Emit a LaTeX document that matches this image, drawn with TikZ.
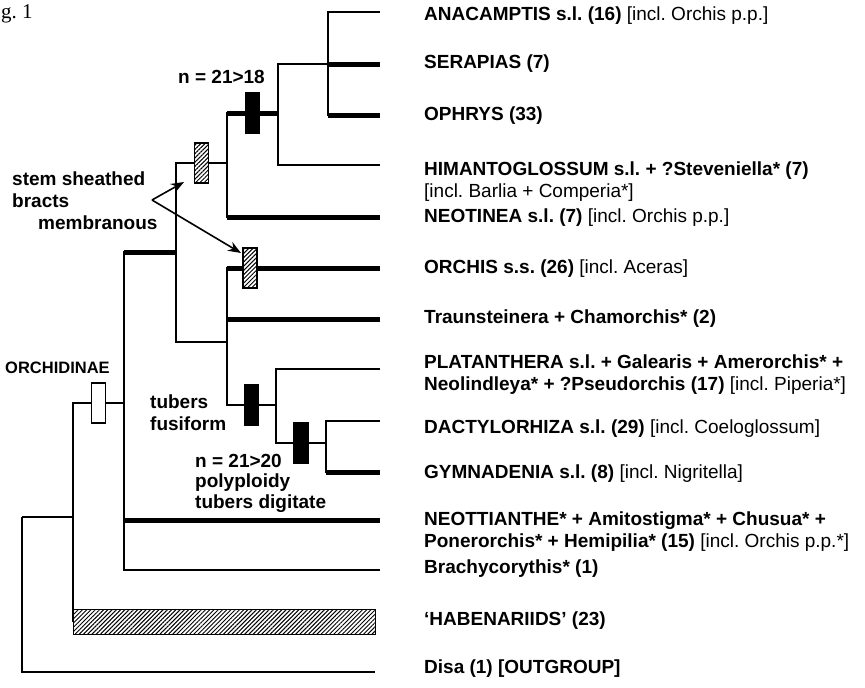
\documentclass[tikz,border=0pt]{standalone}
\usepackage{fontspec}
\setmainfont{Liberation Sans}
\newfontfamily\figfont{Liberation Serif}
\usetikzlibrary{arrows.meta,patterns.meta}
\frenchspacing
\newcommand{\twolines}[2]{\vtop{\hbox{#1}\hbox{#2}}}
\newcommand{\incl}[1]{\textmd{[incl. #1]}}

\begin{document}
\begin{tikzpicture}[x=1pt, y=-1pt,
  every node/.style={inner sep=0pt, anchor=base west, font=\bfseries\fontsize{19}{22}\selectfont},
  br/.style={line width=2.6pt},
  thickbr/.style={line width=5pt},
  bar/.style={draw, line width=1.6pt, minimum width=14pt, minimum height=40pt, anchor=center},
  solidbar/.style={bar, fill=black},
  hatchbar/.style={bar, preaction={fill=white}, pattern={Lines[angle=45,distance=3pt,line width=1pt]}},
  openbar/.style={bar, fill=white},
  pointer/.style={-{Stealth[length=13pt,width=10pt]}, line width=1.6pt}]
\useasboundingbox (0,0) rectangle (865,688);
\node[font=\figfont\fontsize{21}{24}\selectfont] (fig) at (1,19) {g. 1};

\coordinate (R) at (22,517);
\coordinate (n1) at (73,517);
\coordinate (n2) at (124,403);
\coordinate (n3) at (176,252);
\coordinate (n4) at (227,163);
\coordinate (n5) at (278,113);
\coordinate (n6) at (328,64);
\coordinate (n7) at (227,342);
\coordinate (n8) at (276,405);
\coordinate (n9) at (326,443);

\coordinate (anac) at (380,12);
\coordinate (sera) at (380,64);
\coordinate (ophr) at (380,115);
\coordinate (hima) at (380,165);
\coordinate (neot) at (380,217);
\coordinate (orch) at (380,268);
\coordinate (trau) at (380,319);
\coordinate (plat) at (380,369);
\coordinate (dact) at (380,421);
\coordinate (gymn) at (380,472);
\coordinate (neoa) at (380,520);
\coordinate (brac) at (380,570);
\coordinate (disa) at (375,672);
\node[draw, line width=1.6pt, anchor=west, minimum width=302pt, minimum height=25pt,
  preaction={fill=white}, pattern={Lines[angle=45,distance=3pt,line width=1pt]}] (hab) at (73,622) {};

\draw[br] (R) |- (n1);
\draw[br] (R) |- (disa);
\draw[br] (n1) |- (hab.west);
\draw[br] (n1) |- node[openbar, pos=0.75] (k0) {} (n2);
\draw[br] (n2) |- (n3);
\draw[thickbr] (n2 |- n3) -- (n3);
\draw[br] (n2) |- (neoa);
\draw[thickbr] (n2 |- neoa) -- (neoa);
\draw[br] (n2) |- (brac);
\draw[br] (n3) |- node[hatchbar, pos=0.75] (k1) {} (n4);
\draw[br] (n3) |- (n7);
\draw[br] (n4) |- (n5);
\draw[thickbr] (n4 |- n5) -- node[solidbar] (k2) {} (n5);
\draw[br] (n4) |- (neot);
\draw[thickbr] (n4 |- neot) -- (neot);
\draw[br] (n5) |- (n6);
\draw[br] (n5) |- (hima);
\draw[br] (n6) |- (anac);
\draw[thickbr] (n6) -- (sera);
\draw[br] (n6) |- (ophr);
\draw[thickbr] (n6 |- ophr) -- (ophr);
\draw[br] (n7) |- (orch);
\draw[thickbr] (n7 |- orch) -- node[hatchbar, pos=0.15] (k3) {} (orch);
\draw[br] (n7) |- (trau);
\draw[thickbr] (n7 |- trau) -- (trau);
\draw[br] (n7) |- node[solidbar, pos=0.75] (k4) {} (n8);
\draw[br] (n8) |- (plat);
\draw[br] (n8) |- node[solidbar, pos=0.75] (k5) {} (n9);
\draw[br] (n9) |- (dact);
\draw[br] (n9) |- (gymn);
\draw[thickbr] (n9 |- gymn) -- (gymn);

\node (anacL) at (424,20) {ANACAMPTIS s.l. (16) \incl{Orchis p.p.}};
\node (seraL) at (424,68) {SERAPIAS (7)};
\node (ophrL) at (424,120) {OPHRYS (33)};
\node (himaL) at (424,175) {\twolines{HIMANTOGLOSSUM s.l. + ?Steveniella* (7)}{\textmd{[incl. Barlia + Comperia*]}}};
\node (neotL) at (424,222) {NEOTINEA s.l. (7) \incl{Orchis p.p.}};
\node (orchL) at (424,273) {ORCHIS s.s. (26) \incl{Aceras}};
\node (trauL) at (424,323) {Traunsteinera + Chamorchis* (2)};
\node (platL) at (424,368) {\twolines{PLATANTHERA s.l. + Galearis + Amerorchis* +}{Neolindleya* + ?Pseudorchis (17) \incl{Piperia*}}};
\node (dactL) at (424,433) {DACTYLORHIZA s.l. (29) \incl{Coeloglossum}};
\node (gymnL) at (424,478) {GYMNADENIA s.l. (8) \incl{Nigritella}};
\node (neoaL) at (424,525) {\twolines{NEOTTIANTHE* + Amitostigma* + Chusua* +}{Ponerorchis* + Hemipilia* (15) \incl{Orchis p.p.*}}};
\node (bracL) at (424,573) {Brachycorythis* (1)};
\node (habL) at (424,625) {‘HABENARIIDS’ (23)};
\node (disaL) at (424,673) {Disa (1) [OUTGROUP]};

\node (chr1) at (178,83) {n = 21>18};
\node (stem) at (12,185) {\vtop{\hbox{stem sheathed}\hbox{bracts}\hbox{\hspace{26pt}membranous}}};
\node[font=\bfseries\fontsize{16.5}{18}\selectfont] (orchid) at (5,373) {ORCHIDINAE};
\node (tub) at (150,408) {\twolines{tubers}{fusiform}};
\node[font=\bfseries\fontsize{19}{20.5}\selectfont] (chr2) at (195,467) {\vtop{\hbox{n = 21>20}\hbox{polyploidy}\hbox{tubers digitate}}};

\coordinate (apex) at (152,200);
\coordinate (aim1) at (184,182);
\coordinate (aim2) at (241,253);
\draw[pointer] (apex) -- (aim1);
\draw[pointer] (apex) -- (aim2);
\end{tikzpicture}
\end{document}
